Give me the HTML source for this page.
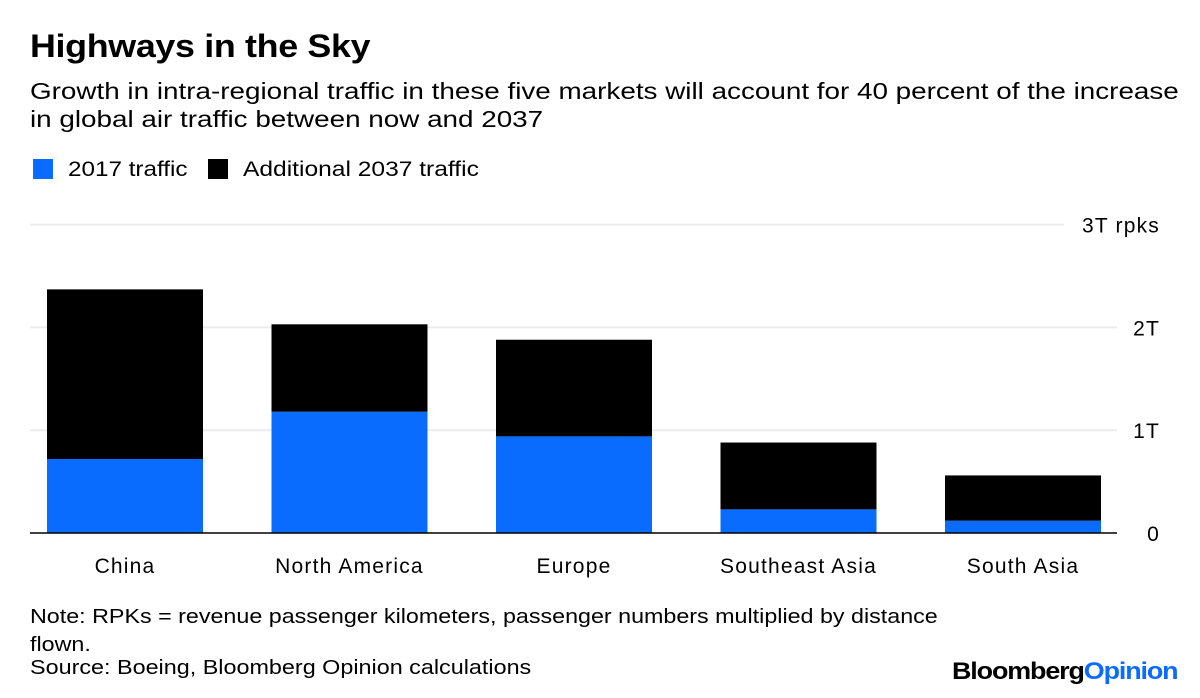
<!DOCTYPE html>
<html><head><meta charset="utf-8"><style>
body{margin:0;width:1200px;height:698px;background:#fff;font-family:"Liberation Sans",sans-serif;color:#000;position:relative;overflow:hidden}
.t{position:absolute;white-space:nowrap;transform-origin:left top}
</style></head><body>
<div class="t" style="left:30px;top:28px;font-size:32px;font-weight:bold;letter-spacing:-0.3px;transform:scaleX(1.12)">Highways in the Sky</div>
<div class="t" style="left:30px;top:77px;font-size:23px;line-height:28px;transform:scaleX(1.21)">Growth in intra-regional traffic in these five markets will account for 40 percent of the increase<br>in global air traffic between now and 2037</div>
<div class="t" style="left:33px;top:158px;font-size:21px"><span style="display:inline-block;width:20px;height:20px;background:#0a6cff;vertical-align:-3px;margin-right:15px"></span><span style="display:inline-block;transform:scaleX(1.155);transform-origin:left">2017 traffic</span></div>
<div class="t" style="left:208px;top:158px;font-size:21px"><span style="display:inline-block;width:20px;height:20px;background:#000;vertical-align:-3px;margin-right:15px"></span><span style="display:inline-block;transform:scaleX(1.17);transform-origin:left">Additional 2037 traffic</span></div>
<svg id="chart" width="1200" height="698" style="position:absolute;left:0;top:0"></svg>
<div class="t" style="left:30px;top:603px;font-size:20px;line-height:28px;transform:scaleX(1.164)">Note: RPKs = revenue passenger kilometers, passenger numbers multiplied by distance<br>flown.</div>
<div class="t" style="left:30px;top:657px;font-size:20px;transform:scaleX(1.168)">Source: Boeing, Bloomberg Opinion calculations</div>
<div class="t" style="left:952px;top:658px;font-size:24px;font-weight:bold;letter-spacing:-1px;transform:scaleX(1.12)">Bloomberg<span style="color:#0a6cff">Opinion</span></div>
<script>
const categories=["China","North America","Europe","Southeast Asia","South Asia"];
const base2017=[0.72,1.18,0.94,0.23,0.12];
const additional2037=[1.65,0.85,0.94,0.65,0.44];
const tickValues=[0,1,2,3];
const tickLabels=["0","1T","2T","3T rpks"];
const NS="http://www.w3.org/2000/svg";
const svg=document.getElementById('chart');
const y=v=>533-v*102.8;
const xc=i=>125+i*224.5;
function mk(tag,attrs){const e=document.createElementNS(NS,tag);for(const k in attrs)e.setAttribute(k,attrs[k]);svg.appendChild(e);return e;}
tickValues.forEach((v,i)=>{
  const endX=i===3?1064:1117;
  if(v>0){const l=mk('line',{x1:30,x2:endX,y1:y(v),y2:y(v),stroke:'#ececec','stroke-width':2});
  
  }
  const t=mk('text',{x:1160,y:y(v)+8,'text-anchor':'end','font-size':21,'letter-spacing':1.2,'font-family':'Liberation Sans, sans-serif'});
  t.textContent=tickLabels[i];
  
  
});
categories.forEach((c,i)=>{
  const x0=xc(i)-78;
  const b=mk('rect',{x:x0,y:y(base2017[i]),width:156,height:y(0)-y(base2017[i]),fill:'#0a6cff'});
  
  
  const top=base2017[i]+additional2037[i];
  const a=mk('rect',{x:x0,y:y(top),width:156,height:y(base2017[i])-y(top),fill:'#000'});
  
  
  const t=mk('text',{x:xc(i),y:573,'text-anchor':'middle','font-size':21,'letter-spacing':1.2,'font-family':'Liberation Sans, sans-serif'});
  t.textContent=c;
  
  
});
const ax=mk('line',{x1:30,x2:1117,y1:533,y2:533,stroke:'#000','stroke-width':1.5});


</script>
</body></html>
